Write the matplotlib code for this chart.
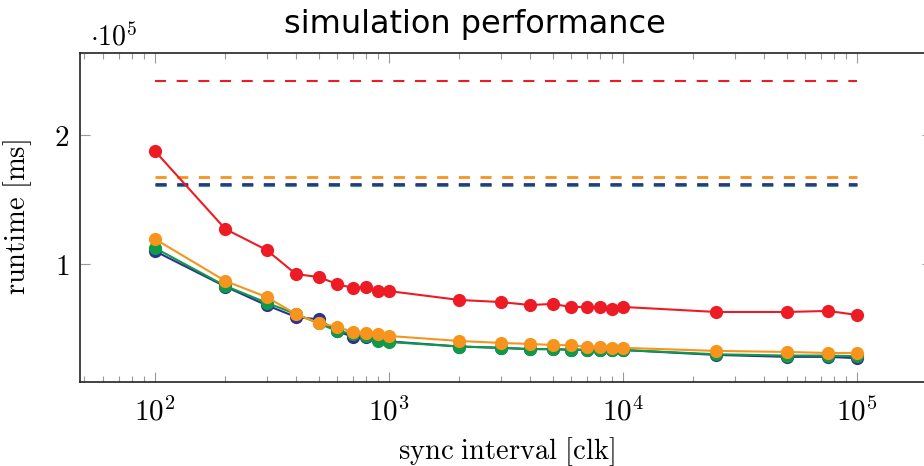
import matplotlib
matplotlib.use("Agg")
import matplotlib.pyplot as plt
from matplotlib.ticker import FixedLocator, FixedFormatter, LogLocator
import numpy as np

plt.rcParams['mathtext.fontset'] = 'cm'
plt.rcParams['font.family'] = ['DejaVu Sans']

sync_interval = [100, 200, 300, 400, 500, 600, 700, 800, 900, 1000,
                 2000, 3000, 4000, 5000, 6000, 7000, 8000, 9000, 10000,
                 25000, 50000, 75000, 100000]

# runtime values in units of 1e5 ms
red_vals = [1.876, 1.271, 1.109, 0.922, 0.899, 0.845, 0.814, 0.822, 0.79, 0.79,
            0.721, 0.705, 0.682, 0.69, 0.667, 0.667, 0.667, 0.65, 0.667,
            0.628, 0.628, 0.636, 0.605]
orange_vals = [1.194, 0.868, 0.744, 0.612, 0.543, 0.512, 0.473, 0.465, 0.457, 0.442,
               0.403, 0.388, 0.38, 0.372, 0.37, 0.357, 0.357, 0.35, 0.35,
               0.326, 0.318, 0.31, 0.31]
green_vals = [1.124, 0.83, 0.70, 0.612, 0.54, 0.48, 0.46, 0.445, 0.40, 0.395,
              0.36, 0.35, 0.34, 0.34, 0.335, 0.335, 0.33, 0.33, 0.333,
              0.30, 0.29, 0.29, 0.285]
blue_vals = [1.10, 0.825, 0.68, 0.59, 0.57, 0.48, 0.435, 0.435, 0.41, 0.40,
             0.36, 0.35, 0.34, 0.34, 0.335, 0.335, 0.33, 0.33, 0.333,
             0.295, 0.28, 0.28, 0.27]

red_baseline = 2.42
orange_baseline = 1.674
green_baseline = 1.614
blue_baseline = 1.622
baseline_x = [100, 100000]

x_ticks = [1e2, 1e3, 1e4, 1e5]
x_ticklabels = [r'$10^{2}$', r'$10^{3}$', r'$10^{4}$', r'$10^{5}$']
y_ticks = [1, 2]
y_ticklabels = [r'$1$', r'$2$']

RED = '#ED1C24'
ORANGE = '#F7941D'
GREEN = '#0E9A48'
BLUE = '#2E3192'

fig = plt.figure(figsize=(9.24, 4.66), dpi=100)
ax = fig.add_axes([80/924, (466-382)/466, 852/924, (382-53)/466])

# dashed baselines
ax.plot(baseline_x, [green_baseline] * 2, color=GREEN, lw=2.0, ls=(0, (4, 3.8)), zorder=2)
ax.plot(baseline_x, [blue_baseline] * 2, color=BLUE, lw=2.0, ls=(0, (4, 3.8)), zorder=2)
ax.plot(baseline_x, [orange_baseline] * 2, color=ORANGE, lw=2.0, ls=(0, (4, 3.8)), zorder=2)
ax.plot(baseline_x, [red_baseline] * 2, color=RED, lw=1.5, ls=(0, (5.3, 5.1)), zorder=2)

for vals, col in [(blue_vals, BLUE), (green_vals, GREEN),
                  (orange_vals, ORANGE), (red_vals, RED)]:
    ax.plot(sync_interval, vals, color=col, lw=1.5, marker='o', ms=9.5,
            markeredgewidth=0, zorder=3)

ax.set_xscale('log')
ax.set_xlim(10**1.68, 10**5.32)
ax.set_ylim(0.085, 2.636)

ax.xaxis.set_major_locator(FixedLocator(x_ticks))
ax.xaxis.set_major_formatter(FixedFormatter(x_ticklabels))
ax.xaxis.set_minor_locator(LogLocator(base=10, subs=np.arange(2, 10), numticks=20))
ax.yaxis.set_major_locator(FixedLocator(y_ticks))
ax.yaxis.set_major_formatter(FixedFormatter(y_ticklabels))
ax.yaxis.set_minor_locator(FixedLocator([]))

ax.tick_params(which='both', direction='in', top=True, right=True,
               color='#999999', labelsize=21)
ax.tick_params(axis='x', pad=11)
ax.tick_params(axis='y', pad=8)
ax.tick_params(which='major', length=7.5, width=0.8)
ax.tick_params(which='minor', length=4.3, width=0.8)
for s in ax.spines.values():
    s.set_linewidth(1.2)
    s.set_color('#222222')

ax.set_xlabel(r'$\mathrm{sync\ interval\ [clk]}$', fontsize=20.5, labelpad=6)
ax.set_ylabel(r'$\mathrm{runtime\ [ms]}$', fontsize=20.5, labelpad=14)
fig.text(90/924, 1 - 45/466, r'$\cdot 10^{5}$', fontsize=20,
         ha='left', va='baseline')
fig.text(475/924, 1 - 25/466, 'simulation performance', fontsize=23,
         ha='center', va='center')

fig.savefig('out.png', dpi=100)
